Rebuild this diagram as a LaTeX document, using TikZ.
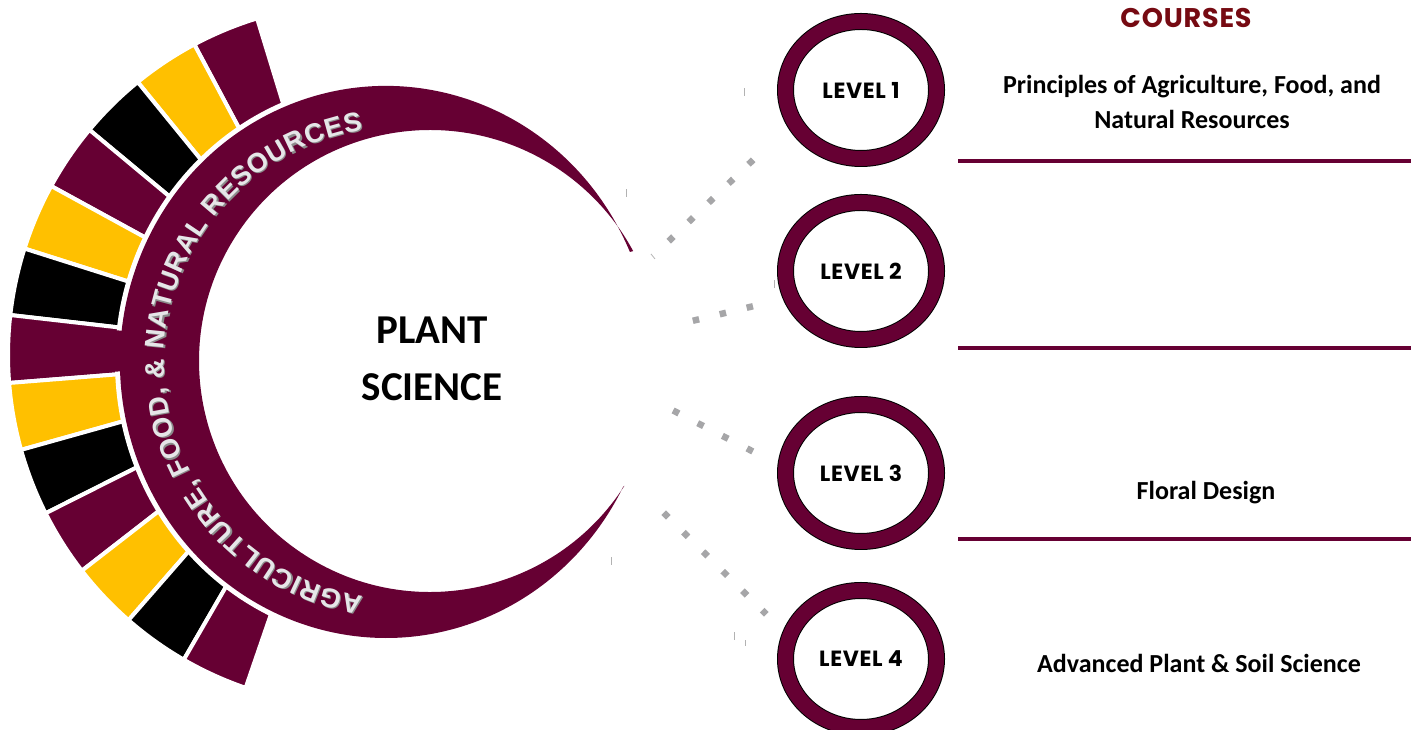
\documentclass[tikz,border=0pt]{standalone}
\usepackage{fontspec}
\setmainfont{Carlito}
\newfontfamily\lvlfont{Poppins}[LetterSpace=3]
\newfontfamily\ringfont{Liberation Sans}
\usetikzlibrary{shapes.geometric,decorations.text}
\definecolor{agmaroon}{RGB}{102,0,51}
\definecolor{agyellow}{RGB}{255,192,0}
\definecolor{crsred}{RGB}{118,10,18}
\definecolor{dotgray}{RGB}{166,166,168}
\definecolor{ringgray}{RGB}{230,230,232}
\tikzset{
  lvlring/.style={ellipse, draw=black, line width=1, double=agmaroon,
    double distance=15, fill=white, minimum width=151, minimum height=137,
    inner sep=0, font=\lvlfont\bfseries\fontsize{22}{22}\selectfont},
  crstext/.style={font=\bfseries\fontsize{26}{35}\selectfont, align=center},
  dotline/.style={dotgray, line width=6.5, dash pattern=on 6.5 off 21.2},
  smallmark/.style={black!30, line width=0.8},
  crsrule/.style={agmaroon, line width=4}
}
\begin{document}
\begin{tikzpicture}[x=1pt,y=1pt]
  \useasboundingbox (0,0) rectangle (1411,730);
  % coloured blocks round the left side:
  \begin{scope}[shift={(360,375)}]
    \foreach \i/\col in {0/agmaroon,1/agyellow,2/black,3/agmaroon,4/agyellow,
        5/black,6/agmaroon,7/agyellow,8/black,9/agmaroon,10/agyellow,
        11/black,12/agmaroon} {
      \pgfmathsetmacro\a{107+11.08*\i}
      \pgfmathsetmacro\b{\a+11.08}
      \filldraw[fill=\col, draw=white, line width=4]
        (\a:150) -- (\a:352) arc[start angle=\a, end angle=\b, radius=352]
        -- (\b:150) -- cycle;
    }
  \end{scope}
  % white gap between blocks and crescent:
  \fill[white] (386,368) ellipse[x radius=271, y radius=281];
  \fill[agmaroon, shift={(360,375)}] (174.2:215) -- (174.2:262)
    arc[start angle=174.2, end angle=183.9, radius=262] -- (183.9:215) -- cycle;
  % crescent:
  \fill[agmaroon] (629.9,478.1)
    arc[start angle=23.5, end angle=333.1, x radius=266, y radius=276]
    -- (624.4,244.2) arc[start angle=327.3, end angle=28.4, radius=231] -- cycle;
  % lettering on the crescent, shadow first:
  {\ringfont\bfseries\fontsize{27}{27}\selectfont
  \path[decorate, decoration={text along path,
      text={AGRICULTURE, FOOD, {\&} NATURAL RESOURCES},
      text align={fit to path}, text color=black!45}]
    (364.1,132.7) arc[start angle=261, end angle=99, radius=236];
  \path[decorate, decoration={text along path,
      text={AGRICULTURE, FOOD, {\&} NATURAL RESOURCES},
      text align={fit to path}, text color=ringgray}]
    (362.9,133.9) arc[start angle=261, end angle=99, radius=236];
  }
  \node[font=\bfseries\fontsize{41}{57}\selectfont, align=center] (plant)
    at (432,371) {PLANT\\SCIENCE};
  % dotted connectors:
  \coordinate (d1s) at (668.7,488.8);
  \coordinate (d1e) at (753.3,570.3);
  \coordinate (d2s) at (692.8,409.2);
  \coordinate (d2e) at (753.2,423.8);
  \coordinate (d3s) at (673.1,319.5);
  \coordinate (d3e) at (752.9,278.5);
  \coordinate (d4s) at (663.7,217.3);
  \coordinate (d4e) at (766.3,115.7);
  \draw[dotline] (d1s) -- (d1e);
  \draw[dotline] (d2s) -- (d2e);
  \draw[dotline] (d3s) -- (d3e);
  \draw[dotline] (d4s) -- (d4e);
  % small marks:
  \draw[smallmark] (744,634) -- (744,642);
  \draw[smallmark] (626,533) -- (626,541);
  \draw[smallmark] (651,476) -- (655,471);
  \draw[smallmark] (774,442) -- (774,450);
  \draw[smallmark] (611,165) -- (611,173);
  \draw[smallmark] (734,90) -- (734,98);
  \draw[smallmark] (745,84) -- (745,90);
  % levels:
  \node[lvlring] (lvl1) at (861,640) {LEVEL 1};
  \node[lvlring] (lvl2) at (861,459) {LEVEL 2};
  \node[lvlring] (lvl3) at (861,257) {LEVEL 3};
  \node[lvlring] (lvl4) at (861,71) {LEVEL 4};
  % courses:
  \node[font=\lvlfont\bfseries\fontsize{27}{27}\selectfont, text=crsred,
    anchor=base] (crshead) at (1186,702) {COURSES};
  \node[crstext, anchor=base] (crs1) at (1192,601)
    {Principles of Agriculture, Food, and\\Natural Resources};
  \node[crstext, anchor=base] (crs3) at (1206,230) {Floral Design};
  \node[crstext, anchor=base] (crs4) at (1199,57) {Advanced Plant \& Soil Science};
  \draw[crsrule] (958,569) -- (1411,569);
  \draw[crsrule] (958,382) -- (1411,382);
  \draw[crsrule] (958,191) -- (1411,191);
\end{tikzpicture}
\end{document}
